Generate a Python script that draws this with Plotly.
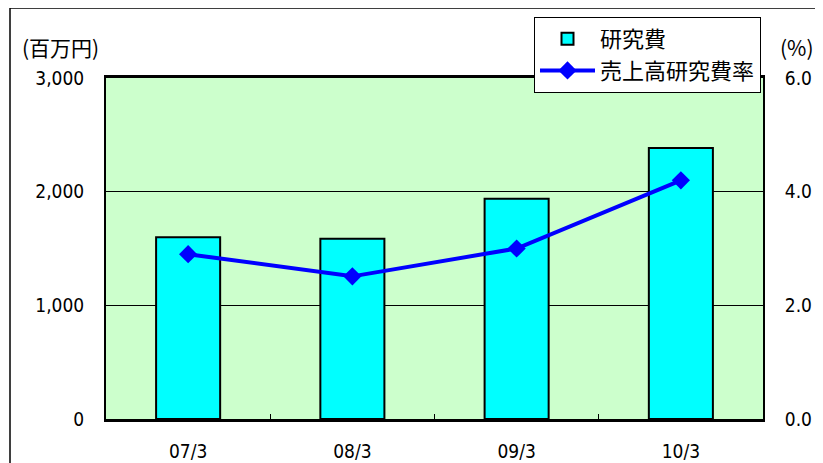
import plotly.graph_objects as go

categories = ["07/3", "08/3", "09/3", "10/3"]
rd_cost = [1600, 1585, 1938, 2385]          # 研究費 (百万円)
rd_ratio = [2.90, 2.51, 3.00, 4.20]         # 売上高研究費率 (%)
left_ticks = [0, 1000, 2000, 3000]
right_ticks = [0, 2, 4, 6]

FONT = "DejaVu Sans Condensed, Noto Sans CJK JP, sans-serif"
JP_FONT = "Noto Sans CJK JP, sans-serif"
OFF = 8  # default body margin of the page
W, H = 823 - OFF, 463 - OFF
# plot area in page pixels: x 106..763, y 78..419
L, T = 106 - OFF, 78 - OFF
R, B = W - (763 - OFF), H - (419 - OFF)
PW, PH = W - L - R, H - T - B


def px_x(p):
    return (p - OFF - L) / PW


def px_y(p):
    return (H - B - (p - OFF)) / PH


fig = go.Figure()
fig.add_trace(go.Bar(
    x=categories, y=rd_cost, name="研究費", width=0.39,
    marker=dict(color="#00FFFF", line=dict(color="black", width=2)),
))
fig.add_trace(go.Scatter(
    x=categories, y=rd_ratio, name="売上高研究費率", yaxis="y2",
    mode="lines+markers",
    line=dict(color="#0000FF", width=4),
    marker=dict(symbol="diamond", size=14, color="#0000FF"),
))

fig.update_layout(
    width=W, height=H,
    margin=dict(l=L, r=R, t=T, b=B, autoexpand=False),
    paper_bgcolor="white", plot_bgcolor="#CCFFCC",
    font=dict(family=FONT, size=19, color="black"),
    showlegend=True,
    legend=dict(
        x=px_x(534), y=px_y(17), xanchor="left", yanchor="top",
        bgcolor="white", bordercolor="black", borderwidth=1,
        font=dict(family=JP_FONT, size=22), tracegroupgap=0,
        itemwidth=55,
    ),
    xaxis=dict(
        showline=True, linecolor="black", linewidth=2.5, mirror=True,
        ticks="inside", ticklen=5, tickcolor="black", tickson="boundaries",
        showgrid=False, ticklabelstandoff=13, automargin=False,
    ),
    yaxis=dict(
        range=[0, 3000], tickvals=left_ticks, tickformat=",d",
        showline=True, linecolor="black", linewidth=2,
        ticks="inside", ticklen=5, tickcolor="black",
        showgrid=True, gridcolor="black", gridwidth=1, zeroline=False,
        ticklabelstandoff=16, automargin=False,
    ),
    yaxis2=dict(
        range=[0, 6], tickvals=right_ticks, tickformat=".1f",
        overlaying="y", side="right",
        showline=True, linecolor="black", linewidth=2,
        ticks="inside", ticklen=5, tickcolor="black",
        showgrid=False, zeroline=False, ticklabelstandoff=16,
        automargin=False,
    ),
    shapes=[dict(
        type="rect", xref="paper", yref="paper",
        x0=px_x(10), x1=px_x(900), y0=px_y(600), y1=px_y(8),
        line=dict(color="black", width=1.5), fillcolor="rgba(0,0,0,0)",
        layer="below",
    )],
    annotations=[
        dict(text="(百万円)", xref="paper", yref="paper",
             x=px_x(20), y=px_y(47), xanchor="left", yanchor="middle",
             showarrow=False, font=dict(family=JP_FONT, size=21)),
        dict(text="(%)", xref="paper", yref="paper",
             x=px_x(778), y=px_y(47), xanchor="left", yanchor="middle",
             showarrow=False, font=dict(family=JP_FONT, size=21)),
    ],
)

fig.write_html("out.html")
